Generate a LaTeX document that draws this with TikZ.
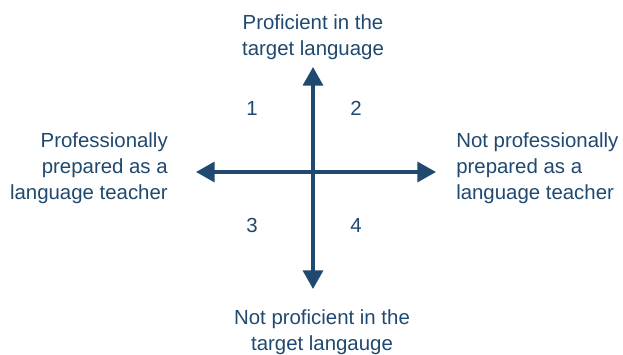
\documentclass[tikz,border=0pt]{standalone}
\usepackage{fontspec}
\setmainfont{Liberation Sans}
\usetikzlibrary{arrows.meta}
\definecolor{quadblue}{HTML}{1F4970}

\begin{document}
\begin{tikzpicture}[x=0.75pt,y=-0.75pt,
  axis/.style={quadblue,line width=2.6pt,{Triangle[width=15pt,length=14pt]}-{Triangle[width=15pt,length=14pt]}},
  label/.style={text=quadblue,inner sep=0pt,font=\fontsize{15.3}{19.5}\selectfont}]
\useasboundingbox (0,0) rectangle (623,354);

% Axis ends
\coordinate (top) at (313,67);
\coordinate (bottom) at (313,289);
\coordinate (left) at (196,172);
\coordinate (right) at (436,172);

% Draw axes
\draw[axis] (bottom) -- (top);
\draw[axis] (left) -- (right);

% Quadrant numbers
\node[label] (q1) at (252,108) {1};
\node[label] (q2) at (356,108) {2};
\node[label] (q3) at (252,225) {3};
\node[label] (q4) at (356,225) {4};

% Axis labels
\node[label,align=center,anchor=north] (proficient) at (313,14) {Proficient in the\\target language};
\node[label,align=center,anchor=north] (notproficient) at (322,309) {Not proficient in the\\target langauge};
\node[label,align=right,anchor=north east] (prepared) at (168,132) {Professionally\\prepared as a\\language teacher};
\node[label,align=left,anchor=north west] (notprepared) at (456,132) {Not professionally\\prepared as a\\language teacher};
\end{tikzpicture}
\end{document}
